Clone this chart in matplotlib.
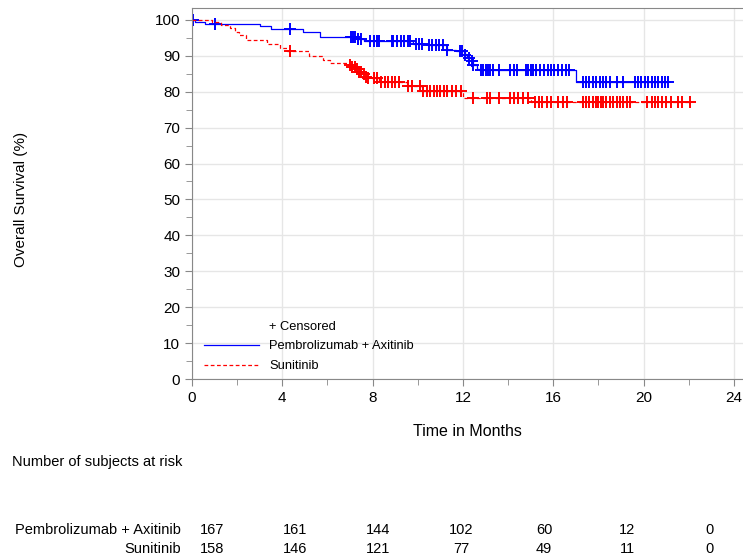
import numpy as np
import matplotlib
matplotlib.use("Agg")
import matplotlib.pyplot as plt
from matplotlib.lines import Line2D

plt.rcParams['font.family'] = ['Liberation Sans', 'DejaVu Sans']

# Kaplan-Meier step data (months, % surviving)
pembro_times = [0, 0.13, 0.57, 3.0, 3.5, 4.9, 5.67, 7.3, 7.6, 9.8, 10.45, 11.3, 11.7,
                12.1, 12.2, 12.4, 12.45, 12.6, 12.7, 17.0]
pembro_surv = [100, 99.4, 98.8, 98.3, 97.5, 96.5, 95.2, 94.6, 94.0, 93.3, 93.1, 91.6, 91.2,
               90.3, 89.4, 88.5, 87.3, 86.4, 86.0, 82.8]
pembro_end = 21.1
pembro_censor = [0.05, 1.0, 4.35, 7.05, 7.15, 7.2, 7.35, 7.5, 7.9, 8.05, 8.2, 8.3, 8.85, 8.9,
                 9.1, 9.25, 9.4, 9.55, 9.65, 9.9, 10.05, 10.2, 10.5, 10.65, 10.8, 10.95, 11.1,
                 11.3, 11.85, 11.95, 12.1, 12.25, 12.4, 12.45, 12.8, 12.9, 13.0, 13.1, 13.2,
                 13.35, 13.6, 14.1, 14.25, 14.4, 14.8, 14.9, 15.0, 15.1, 15.25, 15.4, 15.6,
                 15.75, 15.9, 16.05, 16.2, 16.4, 16.55, 16.7, 17.3, 17.45, 17.6, 17.75, 17.9,
                 18.05, 18.2, 18.35, 18.5, 18.8, 19.1, 19.6, 19.75, 19.9, 20.05, 20.2, 20.35,
                 20.5, 20.65, 20.8, 20.95, 21.1]

sunit_times = [0, 0.87, 1.3, 1.7, 1.9, 2.1, 2.4, 3.3, 3.9, 4.2, 5.2, 5.8, 6.1, 6.9, 7.1,
               7.25, 7.4, 7.55, 7.7, 7.8, 8.3, 9.5, 10.2, 12.0, 15.0]
sunit_surv = [100, 99.3, 98.6, 97.6, 96.7, 95.8, 94.4, 93.3, 92.1, 91.2, 90.0, 88.9, 88.1,
              87.5, 86.9, 86.2, 85.5, 84.8, 84.2, 83.7, 82.8, 81.5, 80.3, 78.3, 77.0]
sunit_end = 22.05
sunit_censor = [4.35, 7.0, 7.1, 7.2, 7.3, 7.4, 7.5, 7.6, 7.7, 7.8, 8.05, 8.2, 8.35, 8.55, 8.7,
                8.85, 9.0, 9.15, 9.55, 9.75, 10.1, 10.25, 10.4, 10.55, 10.7, 10.85, 11.0,
                11.15, 11.3, 11.5, 11.7, 11.9, 12.45, 13.05, 13.2, 13.6, 14.1, 14.25, 14.45,
                14.65, 14.9, 15.2, 15.35, 15.5, 15.7, 15.9, 16.2, 16.45, 16.6, 17.3, 17.45,
                17.6, 17.75, 17.9, 18.0, 18.1, 18.2, 18.35, 18.5, 18.65, 18.8, 18.95, 19.1,
                19.25, 19.4, 20.15, 20.35, 20.5, 20.65, 20.8, 21.0, 21.2, 21.5, 21.7, 22.05]

# number at risk table
risk_labels = ['Pembrolizumab + Axitinib', 'Sunitinib']
risk_pembro = [167, 161, 144, 102, 60, 12, 0]
risk_sunit = [158, 146, 121, 77, 49, 11, 0]

red_dash = (0, (3, 2))


def km_curve(ax, times, surv, end, censor, color, ls):
    t = np.array(times + [end])
    s = np.array(surv + [surv[-1]])
    ax.step(t, s, where='post', color=color, lw=0.9, linestyle=ls)
    idx = np.searchsorted(times, censor, side='right') - 1
    ax.plot(censor, np.array(surv)[idx], linestyle='none', marker='+',
            color=color, markersize=8, markeredgewidth=1.4)


fig = plt.figure(figsize=(7.43, 5.59), dpi=100)
ax = fig.add_axes([0.2584, 0.322, 0.7416, 0.6637])

km_curve(ax, pembro_times, pembro_surv, pembro_end, pembro_censor, '#0000ff', '-')
km_curve(ax, sunit_times, sunit_surv, sunit_end, sunit_censor, '#ff0000', red_dash)

ax.set_xlim(0, 24.4)
ax.set_ylim(0, 103.3)
ax.set_xticks(np.arange(0, 25, 4))
ax.set_xticks(np.arange(0, 25, 2), minor=True)
ax.set_yticks(np.arange(0, 101, 10))
ax.set_yticks(np.arange(0, 101, 5), minor=True)
ax.grid(True, which='major', color='#e6e6e6', lw=1)
ax.set_axisbelow(True)
for side in ['left', 'bottom', 'top']:
    ax.spines[side].set_color('#888888')
ax.spines['right'].set_visible(False)
ax.tick_params(which='both', color='#888888', labelsize=11, direction='out')
ax.tick_params(which='major', length=5)
ax.tick_params(which='minor', length=4)

ax.set_ylabel('Overall Survival (%)', fontsize=11)
ax.yaxis.set_label_coords(-0.298, 0.483)
ax.set_xlabel('Time in Months', fontsize=11.5, labelpad=14)

handles = [Line2D([], [], color='none'),
           Line2D([], [], color='#0000ff', lw=0.9),
           Line2D([], [], color='#ff0000', lw=0.9, linestyle=red_dash)]
ax.legend(handles, ['+ Censored', 'Pembrolizumab + Axitinib', 'Sunitinib'],
          loc='lower left', bbox_to_anchor=(0.0, -0.013), frameon=False,
          fontsize=9.3, handlelength=4.3, handletextpad=0.8, labelspacing=0.6)

# risk table
fig.text(12 / 743, 1 - 462 / 559, 'Number of subjects at risk', fontsize=10.5,
         va='center', ha='left')
for row, (lab, vals) in enumerate(zip(risk_labels, [risk_pembro, risk_sunit])):
    y = 1 - (530 + row * 19) / 559
    fig.text(181 / 743, y, lab, fontsize=10.5, ha='right', va='center')
    for i, v in enumerate(vals):
        fig.text((212 + i * 83) / 743, y, str(v), fontsize=10.5, ha='center', va='center')

fig.savefig('out.png', dpi=100)
